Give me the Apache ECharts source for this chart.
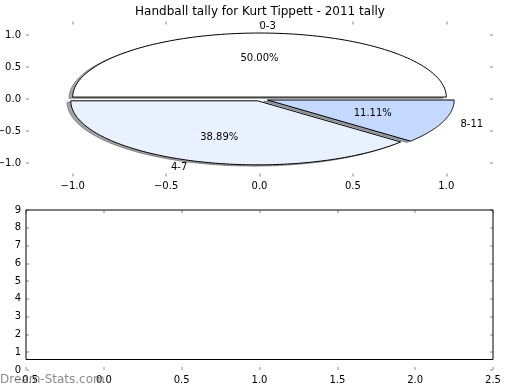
<!DOCTYPE html>
<html>
<head>
<meta charset="utf-8">
<script src="https://cdn.jsdelivr.net/npm/echarts@6/dist/echarts.min.js"></script>
<style>html,body{margin:0;padding:0;background:#fff}#c{width:520px;height:390px}</style>
</head>
<body>
<div id="c"></div>
<script>
const titleText = 'Handball tally for Kurt Tippett - 2011 tally';
const categories = ['0-3', '4-7', '8-11'];
const values = [9, 7, 2];
const explode = [0.03, 0.03, 0.045];
const pieColors = ['#ffffff', '#e9f1fe', '#c5d9fe'];
const pieTicks = [-1, -0.5, 0, 0.5, 1];
const barXTicks = [-0.5, 0, 0.5, 1, 1.5, 2, 2.5];
const barYTicks = [0, 1, 2, 3, 4, 5, 6, 7, 8, 9];
const barData = [];
const watermark = 'Dream-Stats.com';

const FONT = 'DejaVu Sans';
const tickColor = '#c4c4c4';
const total = values.reduce((a, b) => a + b, 0);
const starts = [];
let acc = 0;
values.forEach(v => { starts.push(acc / total * 360); acc += v; });

function fmt(v) {
  const s = Number(v).toFixed(1);
  return v < 0 ? '\u2212' + s.slice(1) : s;
}
function shade(hex) {
  const n = parseInt(hex.slice(1), 16);
  const r = Math.round(((n >> 16) & 255) * 0.3), g = Math.round(((n >> 8) & 255) * 0.3), b = Math.round((n & 255) * 0.3);
  return 'rgba(' + r + ',' + g + ',' + b + ',0.5)';
}

function wedge(params, api, shadow) {
  const i = params.dataIndex;
  const t1 = starts[i], t2 = starts[i] + values[i] / total * 360;
  const mid = (t1 + t2) / 2 * Math.PI / 180;
  const e = explode[i];
  let cx = e * Math.cos(mid), cy = e * Math.sin(mid);
  if (shadow) { cx -= 0.02; cy -= 0.02; }
  const pts = [api.coord([cx, cy])];
  const N = 120;
  for (let k = 0; k <= N; k++) {
    const t = (t1 + (t2 - t1) * k / N) * Math.PI / 180;
    pts.push(api.coord([cx + Math.cos(t), cy + Math.sin(t)]));
  }
  const children = [{
    type: 'polygon',
    shape: { points: pts },
    style: shadow ? { fill: shade(pieColors[i]), stroke: shade(pieColors[i]), lineWidth: 1 }
                  : { fill: pieColors[i], stroke: '#000', lineWidth: 1 }
  }];
  if (!shadow) {
    const lc = Math.cos(mid), ls = Math.sin(mid);
    const lp = api.coord([(1.1 + e) * lc, (1.1 + e) * ls]);
    children.push({
      type: 'text',
      style: { text: categories[i], x: lp[0], y: lp[1], align: lc > 0 ? 'left' : 'right', verticalAlign: 'middle', font: '10px ' + FONT, fill: '#000' }
    });
    const pp = api.coord([(0.6 + e) * lc, (0.6 + e) * ls]);
    children.push({
      type: 'text',
      style: { text: (values[i] / total * 100).toFixed(2) + '%', x: pp[0], y: pp[1], align: 'center', verticalAlign: 'middle', font: '10px ' + FONT, fill: '#000' }
    });
  }
  return { type: 'group', children: children };
}

const G0 = { left: 26, top: 21.5, width: 467, height: 155, outerBoundsMode: 'none', containLabel: false };
const G1 = { left: 26, top: 210, width: 467, height: 160, outerBoundsMode: 'none', containLabel: false };
const frameBottom = 359.5;

function tickStyle(custom) {
  const t = { show: true, inside: true, length: 3, lineStyle: { color: tickColor, width: 2 } };
  if (custom) t.customValues = custom;
  return t;
}
function labelStyle(margin, custom, formatter) {
  const l = { show: true, color: '#000', fontFamily: FONT, fontSize: 10, margin: margin, formatter: formatter || fmt };
  if (custom) l.customValues = custom;
  return l;
}
function axis(extra) {
  return Object.assign({
    type: 'value',
    axisLine: { show: false, onZero: false },
    splitLine: { show: false }
  }, extra);
}

const option = {
  animation: false,
  backgroundColor: '#fff',
  title: {
    text: titleText, left: 'center', top: 1,
    textStyle: { fontFamily: FONT, fontSize: 12, fontWeight: 'normal', color: '#000' }
  },
  grid: [G0, G1],
  xAxis: [
    axis({ gridIndex: 0, position: 'bottom', min: -1.25, max: 1.25, axisTick: tickStyle(pieTicks), axisLabel: labelStyle(5, pieTicks) }),
    axis({ gridIndex: 0, position: 'top', min: -1.25, max: 1.25, axisTick: tickStyle(pieTicks), axisLabel: { show: false } }),
    axis({ gridIndex: 1, position: 'bottom', min: barXTicks[0], max: barXTicks[barXTicks.length - 1], interval: 0.5,
      axisTick: tickStyle(), axisLabel: labelStyle(5) }),
    axis({ gridIndex: 1, position: 'top', min: barXTicks[0], max: barXTicks[barXTicks.length - 1], interval: 0.5,
      axisTick: tickStyle(), axisLabel: { show: false } })
  ],
  yAxis: [
    axis({ gridIndex: 0, position: 'left', min: -1.21, max: 1.21, axisTick: tickStyle(pieTicks), axisLabel: labelStyle(5, pieTicks) }),
    axis({ gridIndex: 0, position: 'right', min: -1.21, max: 1.21, axisTick: tickStyle(pieTicks), axisLabel: { show: false } }),
    axis({ gridIndex: 1, position: 'left', min: barYTicks[0], max: barYTicks[barYTicks.length - 1], interval: 1,
      axisTick: tickStyle(), axisLabel: labelStyle(5, null, v => String(v)) }),
    axis({ gridIndex: 1, position: 'right', min: barYTicks[0], max: barYTicks[barYTicks.length - 1], interval: 1,
      axisTick: tickStyle(), axisLabel: { show: false } })
  ],
  graphic: [
    { type: 'rect', silent: true, z: 10,
      shape: { x: G1.left, y: G1.top, width: G1.width, height: frameBottom - G1.top },
      style: { fill: 'none', stroke: '#000', lineWidth: 1 } },
    { type: 'text', left: 0, top: 374, z: 20,
      style: { text: watermark, font: '12px ' + FONT, fill: 'rgba(110,110,110,0.8)' } }
  ],
  series: [
    { type: 'custom', xAxisIndex: 0, yAxisIndex: 0, z: 1, data: values.map((v, i) => [i, v]),
      renderItem: (p, api) => wedge(p, api, true) },
    { type: 'custom', xAxisIndex: 0, yAxisIndex: 0, z: 2, data: values.map((v, i) => [i, v]),
      renderItem: (p, api) => wedge(p, api, false) },
    { type: 'bar', xAxisIndex: 2, yAxisIndex: 2, data: barData }
  ]
};

const chart = echarts.init(document.getElementById('c'), null, { renderer: 'canvas' });
chart.setOption(option);
</script>
</body>
</html>
